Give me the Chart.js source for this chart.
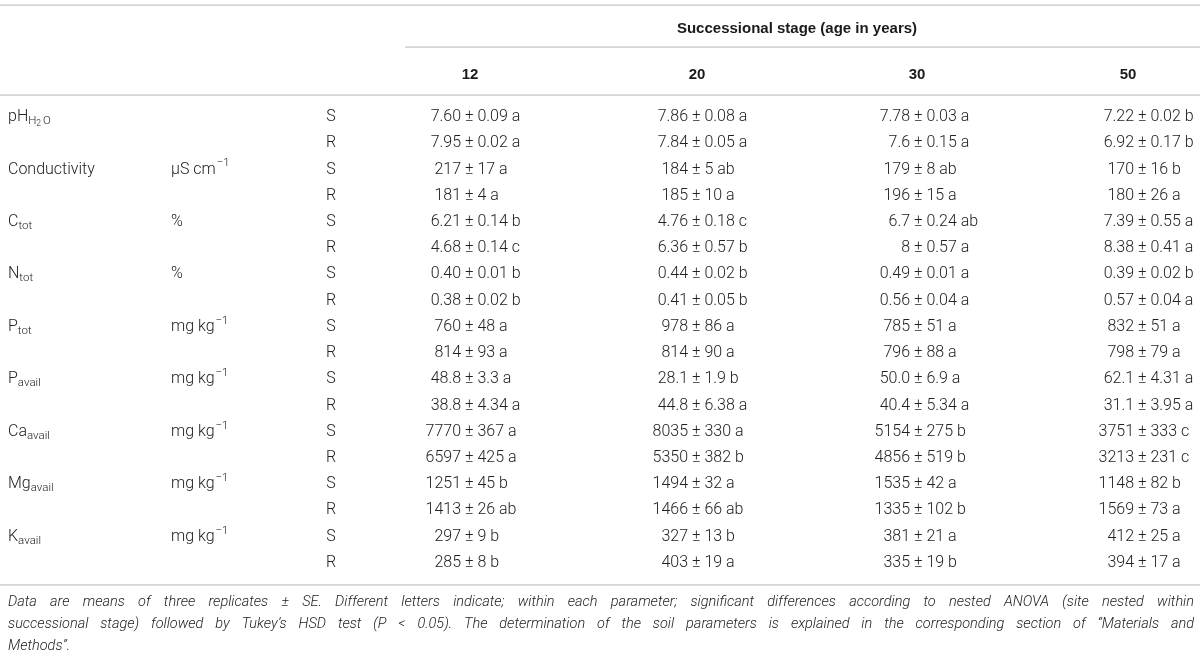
<!DOCTYPE html>
<html><head><meta charset="utf-8">
<script src="https://cdn.jsdelivr.net/npm/chart.js@4.4.0/dist/chart.umd.min.js"></script>
<style>html,body{margin:0;padding:0;background:#fff}#wrap{width:1200px;height:656px;position:relative}</style>
</head><body><div id="wrap"><canvas id="c"></canvas></div>
<script>
// ---------- DATA ----------
const stageTitle = 'Successional stage (age in years)';
const ages = ['12', '20', '30', '50'];
const paramNames = ['pH', 'Conductivity', 'C', 'N', 'P', 'P', 'Ca', 'Mg', 'K'];
const paramSubs  = ['H2O', '', 'tot', 'tot', 'tot', 'avail', 'avail', 'avail', 'avail'];
const unitNames  = ['', 'μS cm', '%', '%', 'mg kg', 'mg kg', 'mg kg', 'mg kg', 'mg kg'];
const unitSups   = ['', '−1', '', '', '−1', '−1', '−1', '−1', '−1'];
const sites = ['S', 'R'];
const age12 = ['7.60 ± 0.09 a','7.95 ± 0.02 a','217 ± 17 a','181 ± 4 a','6.21 ± 0.14 b','4.68 ± 0.14 c','0.40 ± 0.01 b','0.38 ± 0.02 b','760 ± 48 a','814 ± 93 a','48.8 ± 3.3 a','38.8 ± 4.34 a','7770 ± 367 a','6597 ± 425 a','1251 ± 45 b','1413 ± 26 ab','297 ± 9 b','285 ± 8 b'];
const age20 = ['7.86 ± 0.08 a','7.84 ± 0.05 a','184 ± 5 ab','185 ± 10 a','4.76 ± 0.18 c','6.36 ± 0.57 b','0.44 ± 0.02 b','0.41 ± 0.05 b','978 ± 86 a','814 ± 90 a','28.1 ± 1.9 b','44.8 ± 6.38 a','8035 ± 330 a','5350 ± 382 b','1494 ± 32 a','1466 ± 66 ab','327 ± 13 b','403 ± 19 a'];
const age30 = ['7.78 ± 0.03 a','7.6 ± 0.15 a','179 ± 8 ab','196 ± 15 a','6.7 ± 0.24 ab','8 ± 0.57 a','0.49 ± 0.01 a','0.56 ± 0.04 a','785 ± 51 a','796 ± 88 a','50.0 ± 6.9 a','40.4 ± 5.34 a','5154 ± 275 b','4856 ± 519 b','1535 ± 42 a','1335 ± 102 b','381 ± 21 a','335 ± 19 b'];
const age50 = ['7.22 ± 0.02 b','6.92 ± 0.17 b','170 ± 16 b','180 ± 26 a','7.39 ± 0.55 a','8.38 ± 0.41 a','0.39 ± 0.02 b','0.57 ± 0.04 a','832 ± 51 a','798 ± 79 a','62.1 ± 4.31 a','31.1 ± 3.95 a','3751 ± 333 c','3213 ± 231 c','1148 ± 82 b','1569 ± 73 a','412 ± 25 a','394 ± 17 a'];
const footnoteLines = [
  'Data are means of three replicates ± SE. Different letters indicate; within each parameter; significant differences according to nested ANOVA (site nested within',
  'successional stage) followed by Tukey’s HSD test (P < 0.05). The determination of the soil parameters is explained in the corresponding section of “Materials and',
  'Methods”.'
];

// ---------- LAYOUT (positions in x-scale units / row units) ----------
const LAYOUT = {
  paramX: 8, unitX: 171, siteX: 331,
  ageX: [465, 692, 914, 1138],
  headX: [470, 697, 917, 1128],
  subRuleX0: 405, ruleX0: 0, ruleX1: 1200, titleX: 797,
  topRule: -4.27, title: -3.37, subRule: -2.67, header: -1.62, headRule: -0.84,
  bottomRule: 17.84, foot: [18.52, 19.35, 20.17],
  footX0: 8, footX1: 1194
};
const FONT = 'Roboto, "Liberation Sans", Arial, sans-serif';
const WEIGHT = '300';
const BODY = 16;
const BOLDFONT = '"Liberation Sans", Arial, sans-serif';
const FOOTFONT = 'Roboto, "Liberation Sans", Arial, sans-serif';

const valueCols = [age12, age20, age30, age50];
const rowLabels = [];
paramNames.forEach((p, i) => sites.forEach(s => rowLabels.push(p + (paramSubs[i] || '') + ' ' + s)));

function rich(ctx, x, y, parts, color) {
  let cx = x;
  parts.forEach(p => {
    ctx.font = WEIGHT + ' ' + p.size + 'px ' + FONT;
    ctx.fillStyle = color;
    ctx.textAlign = 'left';
    ctx.textBaseline = 'middle';
    ctx.fillText(p.t, cx, y + (p.dy || 0));
    cx += ctx.measureText(p.t).width + (p.gap || 0);
  });
}

const tablePlugin = {
  id: 'tablePlugin',
  afterDatasetsDraw(chart) {
    const ctx = chart.ctx, xs = chart.scales.x, ys = chart.scales.y;
    const X = v => xs.getPixelForValue(v), Y = v => ys.getPixelForValue(v);
    ctx.save();
    // rules
    ctx.strokeStyle = '#d6d6d6';
    ctx.lineWidth = 1.6;
    const hline = (x0, x1, r) => { ctx.beginPath(); ctx.moveTo(X(x0), Y(r)); ctx.lineTo(X(x1), Y(r)); ctx.stroke(); };
    hline(LAYOUT.ruleX0, LAYOUT.ruleX1, LAYOUT.topRule);
    hline(LAYOUT.subRuleX0, LAYOUT.ruleX1, LAYOUT.subRule);
    hline(LAYOUT.ruleX0, LAYOUT.ruleX1, LAYOUT.headRule);
    hline(LAYOUT.ruleX0, LAYOUT.ruleX1, LAYOUT.bottomRule);
    // header
    ctx.fillStyle = '#1a1a1a';
    ctx.font = 'bold 15px ' + BOLDFONT;
    ctx.textAlign = 'center'; ctx.textBaseline = 'middle';
    ctx.fillText(stageTitle, X(LAYOUT.titleX), Y(LAYOUT.title));
    ages.forEach((a, i) => ctx.fillText(a, X(LAYOUT.headX[i]), Y(LAYOUT.header)));
    // parameter + unit + site columns
    const txt = '#222';
    paramNames.forEach((p, i) => {
      const r = i * sites.length;
      const y = Y(r);
      if (paramSubs[i] === 'H2O') {
        rich(ctx, X(LAYOUT.paramX), y, [
          {t: p, size: BODY},
          {t: 'H', size: 11.5, dy: 4},
          {t: '2', size: 8.5, dy: 7, gap: 2},
          {t: 'O', size: 11.5, dy: 4}], txt);
      } else {
        rich(ctx, X(LAYOUT.paramX), y, [{t: p, size: BODY}, {t: paramSubs[i], size: 11.5, dy: 4}], txt);
      }
      if (unitNames[i]) {
        rich(ctx, X(LAYOUT.unitX), y, [{t: unitNames[i], size: BODY, gap: 1}, {t: unitSups[i], size: 11.5, dy: -6}], txt);
      }
    });
    ctx.font = WEIGHT + ' ' + BODY + 'px ' + FONT;
    ctx.fillStyle = txt;
    ctx.textAlign = 'center';
    rowLabels.forEach((lab, r) => ctx.fillText(sites[r % sites.length], X(LAYOUT.siteX), Y(r)));
    // values from dataset elements (aligned on ±)
    chart.data.datasets.forEach((ds, di) => {
      const meta = chart.getDatasetMeta(di);
      meta.data.forEach((el, k) => {
        const s = ds.data[k].text;
        const idx = s.indexOf(' ± ');
        const pre = s.slice(0, idx), post = s.slice(idx + 1);
        ctx.font = WEIGHT + ' ' + BODY + 'px ' + FONT;
        ctx.fillStyle = txt;
        ctx.textBaseline = 'middle';
        const sp = ctx.measureText(' ').width;
        ctx.textAlign = 'right';
        ctx.fillText(pre, el.x - sp, el.y);
        ctx.textAlign = 'left';
        ctx.fillText(post, el.x, el.y);
      });
    });
    // footnote (justified italic)
    ctx.font = 'italic 300 14.5px ' + FOOTFONT;
    ctx.fillStyle = '#222';
    ctx.textAlign = 'left';
    const fx0 = X(LAYOUT.footX0), fx1 = X(LAYOUT.footX1);
    footnoteLines.forEach((line, li) => {
      const y = Y(LAYOUT.foot[li]);
      if (li === footnoteLines.length - 1) { ctx.fillText(line, fx0, y); return; }
      const words = line.split(' ');
      const total = words.reduce((s, w) => s + ctx.measureText(w).width, 0);
      const gap = (fx1 - fx0 - total) / (words.length - 1);
      let cx = fx0;
      words.forEach(w => { ctx.fillText(w, cx, y); cx += ctx.measureText(w).width + gap; });
    });
    ctx.restore();
  }
};

new Chart(document.getElementById('c'), {
  type: 'scatter',
  data: {
    datasets: ages.map((a, i) => ({
      label: a,
      data: valueCols[i].map((v, r) => ({x: LAYOUT.ageX[i], y: r, text: v})),
      pointRadius: 0, pointHoverRadius: 0
    }))
  },
  options: {
    responsive: true, maintainAspectRatio: false, animation: false,
    layout: {padding: {top: 104, bottom: 80, left: 0, right: 0}},
    plugins: {legend: {display: false}, tooltip: {enabled: false}},
    events: [],
    scales: {
      x: {type: 'linear', min: 0, max: 1200, display: false},
      y: {type: 'linear', min: -0.5, max: 17.5, reverse: true, display: false}
    }
  },
  plugins: [tablePlugin]
});
</script></body></html>
